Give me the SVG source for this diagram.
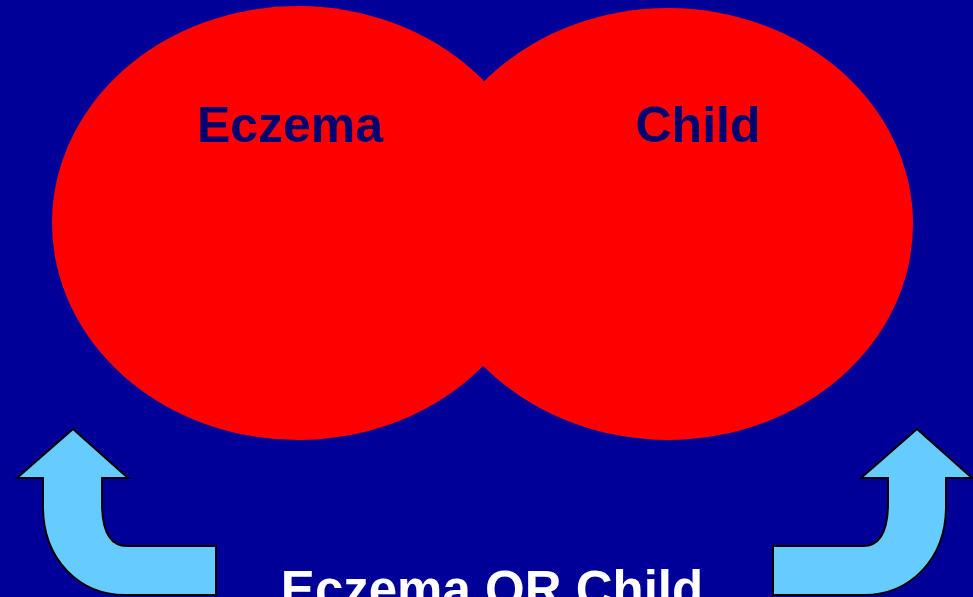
<svg xmlns="http://www.w3.org/2000/svg" width="973" height="597" viewBox="0 0 973 597">
<style>
.set{fill:#FF0000;}
.lbl{font-family:"Liberation Sans",Arial,sans-serif;font-weight:bold;font-size:50px;fill:#000070;text-anchor:middle;}
.cap{font-family:"Liberation Sans",Arial,sans-serif;font-weight:bold;font-size:51px;fill:#FFFFFF;text-anchor:middle;}
.arrow{fill:#66CCFF;stroke:#000000;stroke-width:2;stroke-linejoin:miter;}
</style>
<rect x="0" y="0" width="973" height="597" fill="#000099"/>
<g id="eczema">
<ellipse class="set" cx="298" cy="223" rx="246" ry="217"/>
</g>
<g id="child">
<ellipse class="set" cx="668" cy="224" rx="245" ry="216"/>
</g>
<g id="labels">
<text class="lbl" x="290" y="142">Eczema</text>
<text class="lbl" x="698" y="142">Child</text>
</g>
<g id="connectors">
<path class="arrow" d="M73,429 L128,478 L102,478 L102,503 C102,530 110,546 127,546 L216,546 L216,595 L125,595 C80,595 43,560 43,507 L43,478 L17,478 Z"/>
<path class="arrow" d="M917,429 L972,478 L946,478 L946,507 C946,560 909,595 864,595 L773,595 L773,546 L863,546 C880,546 888,530 888,503 L888,478 L861,478 Z"/>
</g>
<g id="caption">
<text class="cap" x="492" y="607">Eczema OR Child</text>
</g>
</svg>
